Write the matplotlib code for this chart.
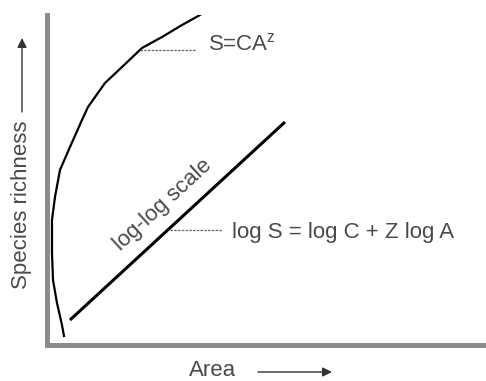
import matplotlib
matplotlib.use("Agg")
import matplotlib.pyplot as plt

plt.rcParams['font.family'] = ['Liberation Sans', 'DejaVu Sans']
plt.rcParams['mathtext.fontset'] = 'custom'
plt.rcParams['mathtext.rm'] = 'Liberation Sans'

# power-law curve S = C A^z (schematic)
curve_area = [16.5, 14.5, 9.5, 5.5, 4.5, 4.5, 7.5, 12.5, 22.5, 34.5, 40.5,
              57.5, 74.5, 94.5, 114.5, 134.5, 152.5]
curve_rich = [9, 20, 42, 65, 92, 125, 148, 175, 198, 225, 238,
              262, 278, 297, 308, 320, 330]

# straight line on log-log scale
loglog_area = [22.5, 237.5]
loglog_rich = [25, 223]

txt_col = '#4a4a4a'
axis_col = '#8c8c8c'

fig = plt.figure(figsize=(4.86, 3.81), dpi=100)
ax = fig.add_axes([0.0977, 0.0945, 0.9023, 0.8661])
ax.set_xlim(0, 438.5)
ax.set_ylim(0, 330)
for s in ['top', 'right']:
    ax.spines[s].set_visible(False)
for s in ['left', 'bottom']:
    ax.spines[s].set_color(axis_col)
    ax.spines[s].set_linewidth(3.6)
ax.set_xticks([])
ax.set_yticks([])

ax.plot(curve_area, curve_rich, color='black', lw=1.6, solid_joinstyle='round')
ax.plot(loglog_area, loglog_rich, color='black', lw=2.2, solid_capstyle='butt')

# leader lines + labels
ax.plot([92.5, 148.5], [295, 295], color='#666666', lw=0.9, ls=(0, (2, 1)))
ax.text(160.5, 301, r'S=CA$^{\mathrm{z}}$', fontsize=16, color=txt_col,
        ha='left', va='center')

ax.plot([122.5, 174.5], [115, 115], color='#666666', lw=0.9, ls=(0, (2, 1)))
ax.text(184.5, 113, 'log S = log C + Z log A', fontsize=16, color=txt_col,
        ha='left', va='center')

ax.text(115, 140.5, 'log-log scale', fontsize=16, color=txt_col, rotation=42.6,
        rotation_mode='anchor', ha='center', va='center')

# axis labels with arrows
fig.text(22 / 486, 1 - 205 / 381, 'Species richness', fontsize=16, color=txt_col,
         rotation=90, ha='center', va='center')
fig.text(213 / 486, 1 - 371 / 381, 'Area', fontsize=16, color=txt_col,
         ha='center', va='center')
ax.annotate('', xy=(22 / 486, 1 - 38 / 381), xytext=(22 / 486, 1 - 112 / 381),
            xycoords='figure fraction', textcoords='figure fraction',
            arrowprops=dict(arrowstyle='-|>', color='#333333', lw=1,
                            mutation_scale=14, shrinkA=0, shrinkB=0))
ax.annotate('', xy=(332 / 486, 1 - 372 / 381), xytext=(258 / 486, 1 - 372 / 381),
            xycoords='figure fraction', textcoords='figure fraction',
            arrowprops=dict(arrowstyle='-|>', color='#333333', lw=1,
                            mutation_scale=14, shrinkA=0, shrinkB=0))

fig.savefig('out.png', dpi=100)
